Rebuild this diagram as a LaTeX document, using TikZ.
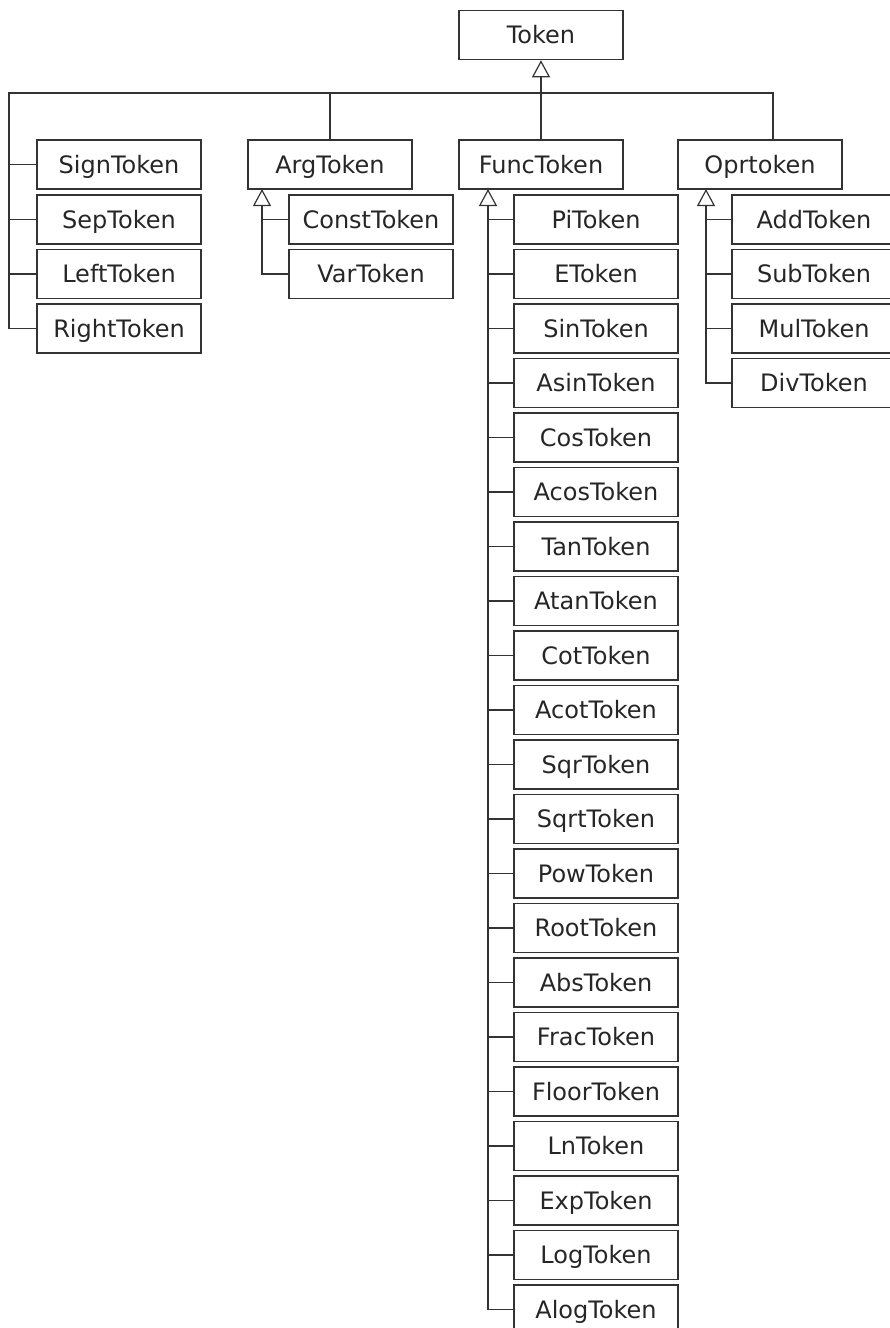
\documentclass[tikz,border=0pt]{standalone}
\usepackage{fontspec}
\setmainfont{DejaVu Sans}
\usetikzlibrary{arrows.meta}
\tikzset{
  tok/.style={draw=black!80,line width=0.75pt,minimum width=82pt,minimum height=24.5pt,
    inner sep=0pt,text height=8.8pt,text depth=0pt,text=black!85,
    font=\fontsize{12}{14}\selectfont},
  inh/.style={-{Triangle[open,length=8.5pt,width=9pt,line width=0.6pt]}},
  wire/.style={draw=black!80,line width=0.75pt}
}
\begin{document}
\begin{tikzpicture}[x=0.5pt,y=-0.5pt]
	\useasboundingbox (0,0) rectangle (889,1328);
	\node[tok] (tok) at (541,35) {Token};
	% first level
	\node[tok] (sign)  at (119,164.5) {SignToken};
	\node[tok] (sep)   at (119,219.5) {SepToken};
	\node[tok] (left)  at (119,274)   {LeftToken};
	\node[tok] (right) at (119,328.5) {RightToken};
	\node[tok] (arg)   at (330,164.5) {ArgToken};
	\node[tok] (func)  at (541,164.5) {FuncToken};
	\node[tok] (opr)   at (760,164.5) {Oprtoken};
	\coordinate (busL) at (9,93);
	\coordinate (busR) at (773,93);
	\draw[wire,inh] (func.north) -- (tok.south);
	\draw[wire] (right.west) -| (busL) -- (busR) -- (busR |- opr.north);
	\foreach \n in {sign,sep,left}\draw[wire] (\n.west) -- (\n.west -| busL);
	\draw[wire] (arg.north) -- (arg.north |- busL);
	% ArgToken
	\node[tok] (const) at (371,219.5) {ConstToken};
	\node[tok] (var)   at (371,274)   {VarToken};
	\coordinate (argB) at (262,189);
	\draw[wire,inh] (var.west) -| (argB);
	\draw[wire] (const.west) -- (const.west -| argB);
	% FuncToken
	\foreach[count=\i from 0] \nm in {Pi,E,Sin,Asin,Cos,Acos,Tan,Atan,Cot,Acot,Sqr,Sqrt,Pow,Root,Abs,Frac,Floor,Ln,Exp,Log,Alog}
		\node[tok] (f\i) at (596,{219.5+54.5*\i}) {\nm Token};
	\coordinate (funcB) at (488,189);
	\draw[wire,inh] (f20.west) -| (funcB);
	\foreach \i in {0,...,19}\draw[wire] (f\i.west) -- (f\i.west -| funcB);
	% Oprtoken
	\node[tok] (add) at (814,219.5) {AddToken};
	\node[tok] (sub) at (814,274)   {SubToken};
	\node[tok] (mul) at (814,328.5) {MulToken};
	\node[tok] (div) at (814,383)   {DivToken};
	\coordinate (oprB) at (706,189);
	\draw[wire,inh] (div.west) -| (oprB);
	\foreach \n in {add,sub,mul}\draw[wire] (\n.west) -- (\n.west -| oprB);
\end{tikzpicture}
\end{document}
